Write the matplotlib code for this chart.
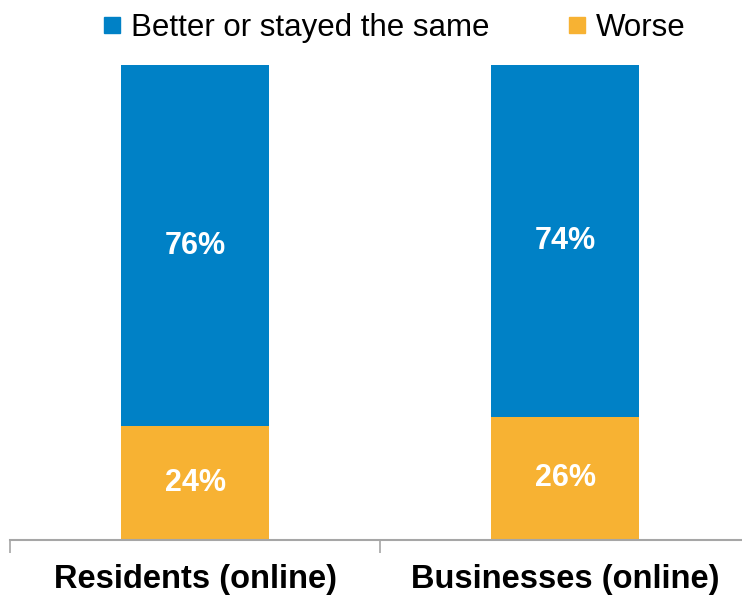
import matplotlib.pyplot as plt
from matplotlib.lines import Line2D

plt.rcParams['font.family'] = ['Liberation Sans', 'DejaVu Sans']

categories = ["Residents (online)", "Businesses (online)"]
worse = [24, 26]
better = [76, 74]
series_names = ["Better or stayed the same", "Worse"]

blue = "#0081C6"
orange = "#F7B233"

fig = plt.figure(figsize=(7.42, 5.95), dpi=100)
ax = fig.add_axes([10 / 742, 55 / 595, 740 / 742, 475 / 595])

x = range(len(categories))
ax.bar(x, worse, width=0.4, color=orange)
ax.bar(x, better, width=0.4, bottom=worse, color=blue)

for i in x:
    ax.text(i, worse[i] / 2, f"{worse[i]}%", ha="center", va="center",
            color="white", fontsize=22, fontweight="bold")
    ax.text(i, worse[i] + better[i] / 2, f"{better[i]}%", ha="center", va="center",
            color="white", fontsize=22, fontweight="bold")

ax.set_xlim(-0.5, 1.5)
ax.set_ylim(0, 100)
for s in ["top", "right", "left"]:
    ax.spines[s].set_visible(False)
ax.spines["bottom"].set_color("#A6A6A6")
ax.spines["bottom"].set_linewidth(1.5)
ax.set_yticks([])

ax.set_xticks(list(x))
ax.set_xticklabels(categories, fontsize=23.5, fontweight="bold")
ax.tick_params(axis="x", which="major", length=0, pad=17)
ax.set_xticks([-0.5, 0.5, 1.5], minor=True)
ax.tick_params(axis="x", which="minor", length=9, width=1.2, color="#A6A6A6")

handles = [Line2D([], [], marker="s", linestyle="none", markersize=11, color=blue),
           Line2D([], [], marker="s", linestyle="none", markersize=11, color=orange)]
fig.legend(handles, series_names, loc="upper center", bbox_to_anchor=(0.527, 1.025),
           ncol=2, frameon=False, fontsize=22.5, handletextpad=0.1,
           columnspacing=2.3, handlelength=1.0)

fig.savefig("out.png", dpi=100)
